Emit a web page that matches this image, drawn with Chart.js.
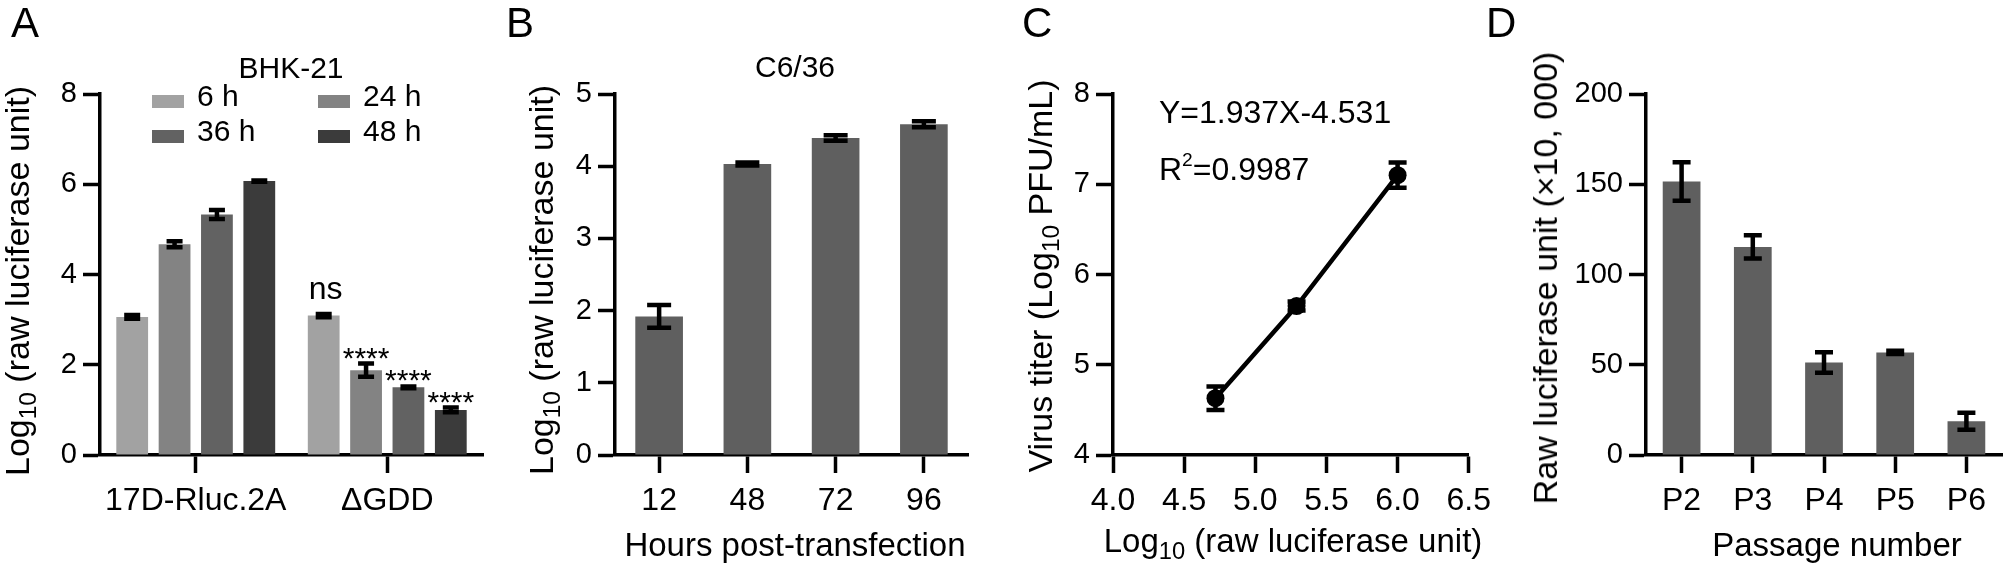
<!DOCTYPE html>
<html>
<head>
<meta charset="utf-8">
<script src="https://cdn.jsdelivr.net/npm/chart.js@4.4.1/dist/chart.umd.min.js"></script>
<style>
  body { margin: 0; width: 2012px; height: 565px; overflow: hidden; position: relative; background: #fff;
         font-family: Arial, "Liberation Sans", Helvetica, sans-serif; color: #000; }
  canvas { position: absolute; top: 0; }
  .txt { position: absolute; white-space: nowrap; line-height: 1; }
  .sb { font-size: 0.72em; position: relative; top: 0.3em; }
  .sp { font-size: 0.6em; position: relative; top: -0.7em; }
  .sw { position: absolute; width: 32px; height: 13px; }
</style>
</head>
<body>
<canvas id="cA" width="500" height="565" style="left:0px"></canvas>
<canvas id="cB" width="500" height="565" style="left:500px"></canvas>
<canvas id="cC" width="500" height="565" style="left:1000px"></canvas>
<canvas id="cD" width="512" height="565" style="left:1500px"></canvas>
<script>
// ---- data ----
// A: BHK-21, two constructs, four time points
var groupsA = ['17D-Rluc.2A', 'ΔGDD'];
var timesA = ['6 h', '24 h', '36 h', '48 h'];
var mean6h  = [3.06, 3.09];
var mean24h = [4.67, 1.88];
var mean36h = [5.33, 1.50];
var mean48h = [6.07, 1.00];
var err6h  = [0.04, 0.035];
var err24h = [0.065, 0.145];
var err36h = [0.10, 0.02];
var err48h = [0.015, 0.05];
var sigA = ['ns', '****', '****', '****'];   // marks over the ΔGDD bars

// B: C6/36
var hoursB = ['12', '48', '72', '96'];
var valuesB = [1.92, 4.03, 4.39, 4.58];
var errsB = [0.157, 0.02, 0.037, 0.042];

// C: standard curve
var lucC = [4.72, 5.29, 6.00];
var titerC = [4.63, 5.65, 7.10];
var errsC = [0.13, 0.05, 0.14];

// D: passages
var passD = ['P2', 'P3', 'P4', 'P5', 'P6'];
var valuesD = [151.5, 115.3, 51.2, 56.8, 18.7];
var errsD = [10.7, 6.5, 5.7, 0.9, 4.7];

// ---- styles ----
var coloursA = ['#a2a2a2', '#838383', '#626262', '#3b3b3b'];
var barGrey = '#5f5f5f';
var AXW = 3.5;

Chart.defaults.font.family = 'Arial, "Liberation Sans", Helvetica, sans-serif';
Chart.defaults.color = '#000';
Chart.defaults.animation = false;

// error bars, drawn on top of the marks
var errorBars = {
  id: 'errorBars',
  afterDatasetsDraw: function(chart) {
    var o = chart.options.plugins.errorBars || {};
    var ctx = chart.ctx, ys = chart.scales.y;
    chart.data.datasets.forEach(function(ds, i) {
      if (!ds.errors) return;
      chart.getDatasetMeta(i).data.forEach(function(el, j) {
        var v = ds.data[j];
        var val = (typeof v === 'object') ? v.y : v;
        var t = ys.getPixelForValue(val + ds.errors[j]);
        var b = ys.getPixelForValue(val - ds.errors[j]);
        ctx.save();
        ctx.strokeStyle = '#000';
        ctx.lineWidth = o.width || 4;
        ctx.beginPath();
        ctx.moveTo(el.x, t); ctx.lineTo(el.x, b);
        ctx.moveTo(el.x - o.cap, t); ctx.lineTo(el.x + o.cap, t);
        ctx.moveTo(el.x - o.cap, b); ctx.lineTo(el.x + o.cap, b);
        ctx.stroke();
        ctx.restore();
      });
    });
  }
};

// significance marks for panel A (second group)
var sigMarks = {
  id: 'sigMarks',
  afterDatasetsDraw: function(chart) {
    var ctx = chart.ctx, ys = chart.scales.y;
    chart.data.datasets.forEach(function(ds, i) {
      var el = chart.getDatasetMeta(i).data[1];
      var top = ys.getPixelForValue(ds.data[1] + ds.errors[1]);
      var s = sigA[i];
      ctx.save();
      ctx.fillStyle = '#000';
      ctx.textAlign = 'center';
      ctx.textBaseline = 'alphabetic';
      if (s === 'ns') {
        ctx.font = '32px Arial, "Liberation Sans", sans-serif';
        ctx.fillText(s, el.x + 2, top - 15);
      } else {
        ctx.font = '30px Arial, "Liberation Sans", sans-serif';
        ctx.fillText(s, el.x, top + 4);
      }
      ctx.restore();
    });
  }
};

function yAxis(min, max, step, yw, size) {
  return {
    min: min, max: max, z: 1,
    ticks: { stepSize: step, font: { size: size }, padding: 6, color: '#000' },
    grid: { drawOnChartArea: false, tickLength: 17, tickWidth: AXW, tickColor: '#000' },
    border: { color: '#000', width: AXW },
    afterFit: function(s) { s.width = yw; }
  };
}
function xAxis(xh, size) {
  return {
    z: 1,
    ticks: { font: { size: size }, padding: 9, color: '#000', maxRotation: 0, autoSkip: false },
    grid: { drawOnChartArea: false, offset: false, tickLength: 18, tickWidth: AXW, tickColor: '#000' },
    border: { color: '#000', width: AXW },
    afterFit: function(s) { s.height = xh; }
  };
}
function baseOpts(padRight) {
  return {
    responsive: false,
    animation: false,
    layout: { padding: { left: 0, right: padRight, top: 94, bottom: 0 } },
    plugins: { legend: { display: false }, tooltip: { enabled: false } }
  };
}

// ---- A ----
var meansA = [mean6h, mean24h, mean36h, mean48h];
var errsA = [err6h, err24h, err36h, err48h];
var optA = baseOpts(17);
optA.plugins.errorBars = { width: 4.5, cap: 8 };
optA.scales = { x: xAxis(110, 32), y: yAxis(0, 8, 2, 100, 29) };
new Chart(document.getElementById('cA'), {
  type: 'bar',
  data: {
    labels: groupsA,
    datasets: timesA.map(function(t, i) {
      return { label: t, data: meansA[i], errors: errsA[i], backgroundColor: coloursA[i],
               categoryPercentage: 0.885, barPercentage: 0.75 };
    })
  },
  options: optA,
  plugins: [errorBars, sigMarks]
});

// ---- B ----
var optB = baseOpts(32);
optB.plugins.errorBars = { width: 4.5, cap: 12 };
optB.scales = { x: xAxis(110, 32), y: yAxis(0, 5, 1, 115, 29) };
new Chart(document.getElementById('cB'), {
  type: 'bar',
  data: {
    labels: hoursB,
    datasets: [{ label: 'C6/36', data: valuesB, errors: errsB, backgroundColor: barGrey,
                 categoryPercentage: 1, barPercentage: 0.54 }]
  },
  options: optB,
  plugins: [errorBars]
});

// ---- C ----
var optC = baseOpts(27);
optC.plugins.errorBars = { width: 4.5, cap: 9 };
var xC = xAxis(110, 32);
xC.type = 'linear'; xC.min = 4; xC.max = 6.5;
xC.ticks.stepSize = 0.5;
xC.ticks.callback = function(v) { return v.toFixed(1); };
optC.scales = { x: xC, y: yAxis(4, 8, 1, 113, 29) };
new Chart(document.getElementById('cC'), {
  type: 'scatter',
  data: {
    datasets: [{
      label: 'titer',
      data: lucC.map(function(x, i) { return { x: x, y: titerC[i] }; }),
      errors: errsC,
      showLine: true, borderColor: '#000', borderWidth: 4.5,
      pointRadius: 9, pointBackgroundColor: '#000', pointBorderWidth: 0
    }]
  },
  options: optC,
  plugins: [errorBars]
});

// ---- D ----
var optD = baseOpts(10);
optD.plugins.errorBars = { width: 4.5, cap: 9 };
optD.scales = { x: xAxis(110, 32), y: yAxis(0, 200, 50, 146, 29) };
new Chart(document.getElementById('cD'), {
  type: 'bar',
  data: {
    labels: passD,
    datasets: [{ label: 'passage', data: valuesD, errors: errsD, backgroundColor: barGrey,
                 categoryPercentage: 1, barPercentage: 0.53 }]
  },
  options: optD,
  plugins: [errorBars]
});

// ---- text ----
function put(html, x, base, size, align) {
  var d = document.createElement('div');
  d.className = 'txt';
  d.style.fontSize = size + 'px';
  d.style.top = (base - 0.8465 * size) + 'px';
  d.style.left = x + 'px';
  if (align === 'center') d.style.transform = 'translateX(-50%)';
  d.innerHTML = html;
  document.body.appendChild(d);
}
function putV(html, cx, cy, size) {
  var d = document.createElement('div');
  d.className = 'txt';
  d.style.fontSize = size + 'px';
  d.style.left = cx + 'px';
  d.style.top = cy + 'px';
  d.style.transform = 'translate(-50%,-50%) rotate(-90deg)';
  d.innerHTML = html;
  document.body.appendChild(d);
}

put('A', 11, 38, 42);
put('B', 506, 38, 42);
put('C', 1022, 38, 42);
put('D', 1486, 38, 42);

put('BHK-21', 291, 78, 30, 'center');
put('C6/36', 795, 77, 30, 'center');

// legend for A
var legX = [152, 318], legRowY = [101, 136];
timesA.forEach(function(t, i) {
  var c = i % 2, r = Math.floor(i / 2);
  var sw = document.createElement('div');
  sw.className = 'sw';
  sw.style.left = legX[c] + 'px';
  sw.style.top = (legRowY[r] - 6) + 'px';
  sw.style.background = coloursA[i];
  document.body.appendChild(sw);
  put(t, legX[c] + 45, legRowY[r] + 5, 30);
});

put('Y=1.937X-4.531', 1159, 123, 32);
put('R<span class="sp">2</span>=0.9987', 1159, 180, 32);

putV('Log<span class="sb">10</span> (raw luciferase unit)', 17, 281, 34);
putV('Log<span class="sb">10</span> (raw luciferase unit)', 541, 280, 34);
putV('Virus titer (Log<span class="sb">10</span> PFU/mL)', 1040, 276, 34);
putV('Raw luciferase unit (×10, 000)', 1545, 278, 34);

put('Hours post-transfection', 795, 556, 33, 'center');
put('Log<span class="sb">10</span> (raw luciferase unit)', 1293, 552, 33, 'center');
put('Passage number', 1837, 556, 33, 'center');
</script>
</body>
</html>
